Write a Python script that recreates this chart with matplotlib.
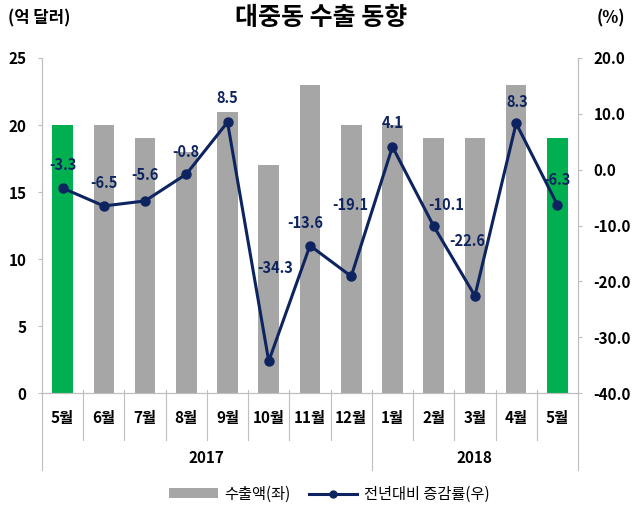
import matplotlib
matplotlib.use('Agg')
import matplotlib.pyplot as plt
import matplotlib.transforms as mtransforms
from matplotlib.patches import Patch
from matplotlib.lines import Line2D
import numpy as np

plt.rcParams['font.family'] = ['Noto Sans CJK KR', 'DejaVu Sans']

# 데이터
months = ['5월', '6월', '7월', '8월', '9월', '10월', '11월', '12월',
          '1월', '2월', '3월', '4월', '5월']
years = ['2017', '2018']
year_counts = [8, 5]
exports = [20, 20, 19, 18, 21, 17, 23, 20, 20, 19, 19, 23, 19]
growth = [-3.3, -6.5, -5.6, -0.8, 8.5, -34.3, -13.6, -19.1,
          4.1, -10.1, -22.6, 8.3, -6.3]

# 라벨 위치 (픽셀 오프셋)
label_offsets = [(0, 23), (0, 23), (0, 26), (0, 22), (0, 24), (6, 93),
                 (-5, 23), (-1, 71), (0, 24), (13, 21), (-8, 55),
                 (1, 21), (0, 25)]

navy = '#0D2460'
gray = '#A6A6A6'
green = '#00B050'
axis_gray = '#BFBFBF'

fig = plt.figure(figsize=(6.39, 5.11), dpi=100)
ax = fig.add_axes([0.0657, 0.2309, 0.8388, 0.6556])
ax2 = ax.twinx()

x = np.arange(len(months))
colors = [gray] * len(months)
colors[0] = green
colors[-1] = green
ax.bar(x, exports, width=0.5, color=colors, zorder=2)
ax.set_xlim(-0.5, len(months) - 0.5)
ax.set_ylim(0, 25)
ax.set_yticks([0, 5, 10, 15, 20, 25])
ax.set_xticks([])

ax2.plot(x, growth, color=navy, lw=2.2, marker='o', ms=6.5, zorder=3)
ax2.set_ylim(-40, 20)
ax2.set_yticks([-40, -30, -20, -10, 0, 10, 20])
ax2.set_yticklabels([f'{v:.1f}' for v in [-40, -30, -20, -10, 0, 10, 20]])

for i, v in enumerate(growth):
    dx, dy = label_offsets[i]
    ax2.annotate(f'{v}', (x[i], v), xytext=(dx, dy), textcoords='offset pixels',
                 ha='center', va='center', fontsize=10.5, fontweight='bold',
                 color=navy, zorder=4)

for a in (ax, ax2):
    a.spines['top'].set_visible(False)
    for s in ('left', 'right', 'bottom'):
        a.spines[s].set_color(axis_gray)
    a.tick_params(axis='y', length=3, color=axis_gray, labelsize=11)
    for lab in a.get_yticklabels():
        lab.set_fontweight('bold')

ax.tick_params(axis='y', pad=8)
ax2.tick_params(axis='y', pad=8)

# 카테고리 축 구분선
trans = mtransforms.blended_transform_factory(ax.transData, ax.transAxes)
for i in range(len(months) - 1):
    bottom = -0.14
    if i + 1 == year_counts[0]:
        bottom = -0.23
    ax.plot([i + 0.5, i + 0.5], [0.01, bottom], color=axis_gray, lw=0.8,
            transform=trans, clip_on=False)
for xe in (-0.5, len(months) - 0.5):
    ax.plot([xe, xe], [0, -0.23], color=axis_gray, lw=0.8,
            transform=trans, clip_on=False)

for i, m in enumerate(months):
    ax.text(i, -0.075, m, transform=trans, ha='center', va='center',
            fontsize=11, fontweight='bold')

start = 0
for yr, n in zip(years, year_counts):
    ax.text(start + (n - 1) / 2, -0.194, yr, transform=trans, ha='center',
            va='center', fontsize=11, fontweight='bold')
    start += n

# 제목, 단위
fig.text(0.503, 0.964, '대중동 수출 동향', ha='center', va='center',
         fontsize=18, fontweight='bold')
fig.text(0.012, 0.964, '(억 달러)', ha='left', va='center',
         fontsize=12, fontweight='bold')
fig.text(0.978, 0.964, '(%)', ha='right', va='center',
         fontsize=12, fontweight='bold')

# 범례
handles = [Patch(facecolor=gray, edgecolor='none'),
           Line2D([0], [0], color=navy, lw=2.2, marker='o', ms=5)]
fig.legend(handles, ['수출액(좌)', '전년대비 증감률(우)'], loc='center',
           bbox_to_anchor=(0.515, 0.033), ncol=2, frameon=False,
           fontsize=11, handlelength=3.2, handleheight=0.6,
           columnspacing=1.2, handletextpad=0.4)

fig.savefig('out.png', dpi=100)
